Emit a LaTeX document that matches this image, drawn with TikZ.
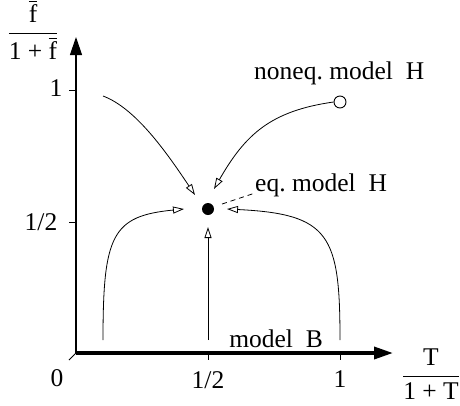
\documentclass[tikz,border=0pt]{standalone}
\usepackage{amsmath}
\usepackage{fontspec}
\setmainfont{Liberation Serif}
\usetikzlibrary{arrows.meta}
\begin{document}
\begin{tikzpicture}[x=1pt,y=-1pt,
  font=\fontsize{25.5}{30}\selectfont,
  flow/.style={line width=0.8pt, -{Triangle[open,length=11pt,width=7pt]}},
  tick/.style={line width=0.8pt},
  lab/.style={inner sep=0pt}]
\useasboundingbox (0,0) rectangle (460,405);
% axes
\coordinate (O) at (76,353);
\coordinate (ytip) at (76,37);
\coordinate (xtip) at (393,353);
\draw[line width=1.2pt, -{Triangle[length=18pt,width=12pt]}] (O) -- (ytip);
\draw[line width=3.5pt, -{Triangle[length=19pt,width=12pt]}] (O) -- (xtip);
\coordinate (o2) at (69,360);
\draw[tick] (O) -- (o2);
% ticks
\coordinate (xh) at (208,353); \coordinate (xh2) at (208,360);
\coordinate (x1) at (340,353); \coordinate (x12) at (340,360);
\coordinate (y1) at (76,90); \coordinate (y12) at (69,90);
\coordinate (yh) at (76,222); \coordinate (yh2) at (69,222);
\draw[tick] (xh) -- (xh2);
\draw[tick] (x1) -- (x12);
\draw[tick] (y1) -- (y12);
\draw[tick] (yh) -- (yh2);
% tick labels
\node[lab] (l0) at (57,378) {0};
\node[lab] (lxh) at (208,380) {1/2};
\node[lab] (lx1) at (340,379) {1};
\node[lab] (ly1) at (56,88) {1};
\node[lab] (lyh) at (41,222) {1/2};
% axis labels
\node[lab] (ylab) at (33,30) {$\dfrac{\overline{\text{f}}}{\text{1 + }\overline{\text{f}}}$};
\node[lab] (xlab) at (431,374) {$\dfrac{\text{T}}{\text{1 + T}}$};
% points
\node[circle,fill=black,inner sep=0pt,minimum size=12pt] (eq) at (208,209) {};
\node[circle,draw=black,fill=white,line width=0.9pt,inner sep=0pt,minimum size=12pt] (neq) at (340,102) {};
% flow curves
\coordinate (s1) at (103,96);   \coordinate (t1) at (195,195);
\coordinate (t2) at (214,189);
\coordinate (s3) at (103,340);  \coordinate (t3) at (184,209);
\coordinate (s4) at (340,340);  \coordinate (t4) at (227,209);
\coordinate (s5) at (208,340);  \coordinate (t5) at (208,227);
\draw[flow] (s1) .. controls (135,108) and (165,150) .. (t1);
\draw[flow] (neq.west) .. controls (270,111) and (245,135) .. (t2);
\draw[flow] (s3) .. controls (103,235) and (112,216) .. (t3);
\draw[flow] (s4) .. controls (340,235) and (330,214) .. (t4);
\draw[flow] (s5) -- (t5);
% labels
\node[lab,anchor=west] (eqlab) at (255,185) {eq.\ model\ \ H};
\node[lab,anchor=west] (neqlab) at (254,73) {noneq.\ model\ \ H};
\node[lab] (blab) at (276,339) {model\ \ B};
\coordinate (d1) at (222,204);
\draw[line width=0.8pt,dash pattern=on 5pt off 4pt] (d1) -- (eqlab.west |- 0,193);
\end{tikzpicture}
\end{document}
